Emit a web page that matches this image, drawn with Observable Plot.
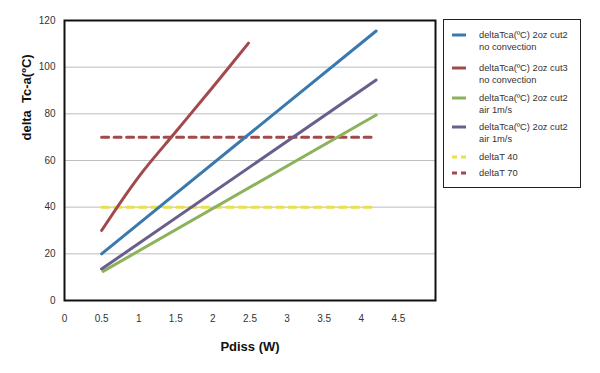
<!DOCTYPE html>
<html>
<head>
<meta charset="utf-8">
<script src="https://cdn.jsdelivr.net/npm/d3@7"></script>
<script src="https://cdn.jsdelivr.net/npm/@observablehq/plot@0.6"></script>
<style>
  body { margin: 0; background: #fff; font-family: "Liberation Sans", Arial, sans-serif; }
  #wrap { position: relative; width: 600px; height: 373px; }
  #legend { position: absolute; left: 443px; top: 19px; width: 138px; height: 169px; border: 1.5px solid #222; box-sizing: border-box; background: #fff; }
  .item { position: absolute; left: 0; font-size: 9.3px; color: #333; line-height: 12.5px; }
  .item svg { position: absolute; left: 7px; }
  .item span { position: absolute; left: 35px; white-space: nowrap; }
</style>
</head>
<body>
<div id="wrap"><div id="chart"></div><div id="legend"></div></div>
<script>
// Series data
const blueX = [0.5, 4.2];
const blueY = [20, 115.5];
const redX = [0.5, 1.0, 1.5, 2.0, 2.48];
const redY = [30, 53, 72.3, 91.5, 110.3];
const greenX = [0.52, 4.2];
const greenY = [12.5, 79.5];
const purpleX = [0.5, 4.2];
const purpleY = [13.5, 94.5];
const limitX = [0.5, 4.2];
const limit40 = [40, 40];
const limit70 = [70, 70];

const xTicks = [0, 0.5, 1, 1.5, 2, 2.5, 3, 3.5, 4, 4.5];
const yTicks = [0, 20, 40, 60, 80, 100, 120];

const seriesNames = [
  "deltaTca(ºC) 2oz cut2\nno convection",
  "deltaTca(ºC) 2oz cut3\nno convection",
  "deltaTca(ºC) 2oz cut2\nair 1m/s",
  "deltaTca(ºC) 2oz cut2\nair 1m/s",
  "deltaT 40",
  "deltaT 70"
];
const colors = ["#3a79ae", "#a4494b", "#8cb35b", "#695e8c", "#e8e04c", "#a4494b"];
const dashed = [false, false, false, false, true, true];

const toRows = (xs, ys) => xs.map((x, i) => ({x, y: ys[i]}));

const chart = Plot.plot({
  width: 600,
  height: 373,
  marginLeft: 64,
  marginRight: 165,
  marginTop: 20,
  marginBottom: 73,
  style: {fontFamily: "'Liberation Sans', Arial, sans-serif", background: "#fff"},
  x: {domain: [0, 5]},
  y: {domain: [0, 120]},
  marks: [
    Plot.gridY(yTicks.filter(d => d > 0 && d < 120), {stroke: "#bdbdbd", strokeOpacity: 1, strokeWidth: 1}),
    Plot.axisX(xTicks, {tickSize: 0, tickPadding: 14, fontSize: 10, fill: "#333", label: null, tickFormat: d => String(d)}),
    Plot.axisY(yTicks, {tickSize: 0, tickPadding: 9, fontSize: 10, fill: "#333", label: null, tickFormat: d => String(d)}),
    Plot.line(toRows(limitX, limit40), {x: "x", y: "y", stroke: colors[4], strokeWidth: 3, strokeDasharray: "7,5.5"}),
    Plot.line(toRows(limitX, limit70), {x: "x", y: "y", stroke: colors[5], strokeWidth: 3, strokeDasharray: "7,5.5"}),
    Plot.line(toRows(greenX, greenY), {x: "x", y: "y", stroke: colors[2], strokeWidth: 3}),
    Plot.line(toRows(purpleX, purpleY), {x: "x", y: "y", stroke: colors[3], strokeWidth: 3}),
    Plot.line(toRows(blueX, blueY), {x: "x", y: "y", stroke: colors[0], strokeWidth: 3}),
    Plot.line(toRows(redX, redY), {x: "x", y: "y", stroke: colors[1], strokeWidth: 3, curve: "catmull-rom"}),
    Plot.frame({stroke: "#111", strokeWidth: 2}),
    Plot.text(["delta  Tc-a(ºC)"], {frameAnchor: "left", dx: -38, dy: -20, rotate: -90, fontSize: 13, fontWeight: "bold", fill: "#111"}),
    Plot.text(["Pdiss (W)"], {frameAnchor: "bottom", dy: 50, fontSize: 13, fontWeight: "bold", fill: "#111"})
  ]
});
document.getElementById("chart").appendChild(chart);

// Legend
const legend = document.getElementById("legend");
const swatchY = [15, 48, 78, 107, 137, 153];
seriesNames.forEach((name, i) => {
  const item = document.createElement("div");
  item.className = "item";
  item.style.top = (swatchY[i] - 7) + "px";
  const ns = "http://www.w3.org/2000/svg";
  const svg = document.createElementNS(ns, "svg");
  svg.setAttribute("width", 16);
  svg.setAttribute("height", 14);
  const ln = document.createElementNS(ns, "line");
  ln.setAttribute("x1", 1); ln.setAttribute("x2", 15);
  ln.setAttribute("y1", 7); ln.setAttribute("y2", 7);
  ln.setAttribute("stroke", colors[i]);
  ln.setAttribute("stroke-width", 3);
  if (dashed[i]) ln.setAttribute("stroke-dasharray", "5,4");
  svg.appendChild(ln);
  item.appendChild(svg);
  const span = document.createElement("span");
  span.style.top = "0.5px";
  span.innerHTML = name.replace("\n", "<br>");
  item.appendChild(span);
  legend.appendChild(item);
});
</script>
</body>
</html>
